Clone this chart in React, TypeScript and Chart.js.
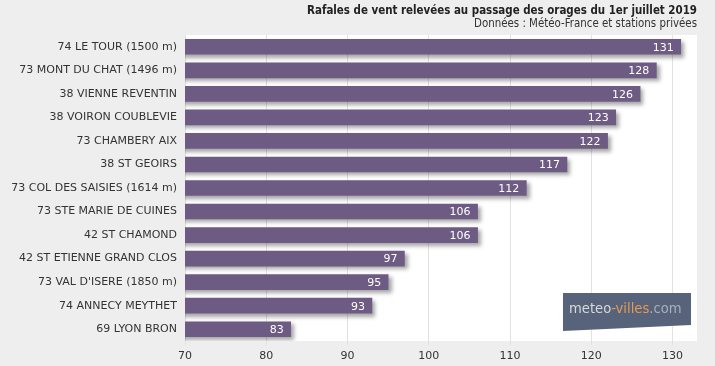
import React, { useEffect, useRef } from "react";
import { Chart, registerables } from "chart.js";

Chart.register(...registerables);

const stations = [
  "74 LE TOUR (1500 m)",
  "73 MONT DU CHAT (1496 m)",
  "38 VIENNE REVENTIN",
  "38 VOIRON COUBLEVIE",
  "73 CHAMBERY AIX",
  "38 ST GEOIRS",
  "73 COL DES SAISIES (1614 m)",
  "73 STE MARIE DE CUINES",
  "42 ST CHAMOND",
  "42 ST ETIENNE GRAND CLOS",
  "73 VAL D'ISERE (1850 m)",
  "74 ANNECY MEYTHET",
  "69 LYON BRON",
];
const gusts = [131, 128, 126, 123, 122, 117, 112, 106, 106, 97, 95, 93, 83];
const axisMin = 70;
const axisMax = 133;
const axisStep = 10;
const titleText = "Rafales de vent relevées au passage des orages du 1er juillet 2019";
const subtitleText = "Données : Météo-France et stations privées";
const logoParts = ["meteo", "-villes", ".com"];

const FONT = "'DejaVu Sans', Verdana, sans-serif";
const FONT_C = "'DejaVu Sans Condensed', 'DejaVu Sans', sans-serif";

const decorPlugin = {
  id: "decor",
  beforeDraw(chart: any) {
    const { ctx, chartArea: a, width, height } = chart;
    ctx.save();
    ctx.fillStyle = "#eeeeee";
    ctx.fillRect(0, 0, width, height);
    ctx.fillStyle = "#ffffff";
    ctx.fillRect(a.left, a.top, a.right - a.left, a.bottom - a.top);
    ctx.restore();
  },
  beforeDatasetsDraw(chart: any) {
    const ctx = chart.ctx;
    ctx.save();
    ctx.shadowColor = "rgba(0,0,0,0.35)";
    ctx.shadowOffsetX = 3;
    ctx.shadowOffsetY = 3;
    ctx.shadowBlur = 4;
  },
  afterDatasetsDraw(chart: any) {
    const ctx = chart.ctx;
    ctx.restore();
    const meta = chart.getDatasetMeta(0);
    ctx.save();
    ctx.font = `11px ${FONT}`;
    ctx.fillStyle = "#ffffff";
    ctx.textAlign = "right";
    ctx.textBaseline = "middle";
    meta.data.forEach((bar: any, i: number) => {
      ctx.fillText(String(gusts[i]), bar.x - 7, bar.y + 1);
    });
    ctx.restore();
  },
  afterDraw(chart: any) {
    const { ctx, chartArea: a } = chart;
    ctx.save();
    // titles
    ctx.textAlign = "right";
    ctx.textBaseline = "alphabetic";
    ctx.fillStyle = "#222222";
    ctx.font = `bold 11.45px ${FONT_C}`;
    ctx.fillText(titleText, a.right, 14);
    ctx.font = `11.4px ${FONT_C}`;
    ctx.fillStyle = "#333333";
    ctx.fillText(subtitleText, a.right, 27);

    // logo
    const lx = a.right - 134;
    const ly = a.bottom - 48;
    ctx.fillStyle = "#56637a";
    ctx.beginPath();
    ctx.moveTo(lx, ly);
    ctx.lineTo(lx + 128, ly);
    ctx.lineTo(lx + 128, ly + 32);
    ctx.lineTo(lx, ly + 38);
    ctx.closePath();
    ctx.fill();
    ctx.textAlign = "left";
    let size = 15;
    ctx.font = `${size}px ${FONT_C}`;
    const full = logoParts.join("");
    const w = ctx.measureText(full).width;
    size = (size * 113) / w;
    ctx.font = `${size}px ${FONT_C}`;
    const colors = ["#d9d9d9", "#e59a55", "#a9b0bd"];
    let x = lx + 6;
    logoParts.forEach((p, i) => {
      ctx.fillStyle = colors[i];
      ctx.fillText(p, x, ly + 20);
      x += ctx.measureText(p).width;
    });
    ctx.restore();
  },
};

export default function App() {
  const ref = useRef<HTMLCanvasElement>(null);
  useEffect(() => {
    document.body.style.margin = "0";
    const chart = new Chart(ref.current as HTMLCanvasElement, {
      type: "bar",
      data: {
        labels: stations,
        datasets: [
          {
            data: gusts,
            backgroundColor: "#6e5b83",
            barThickness: 15,
            borderWidth: 0,
          },
        ],
      },
      options: {
        indexAxis: "y",
        animation: false,
        responsive: false,
        devicePixelRatio: 1,
        layout: { padding: { top: 35, right: 18, left: 0, bottom: 0 } },
        plugins: {
          legend: { display: false },
          tooltip: { enabled: false },
          title: { display: false },
        },
        scales: {
          x: {
            type: "linear",
            min: axisMin,
            max: axisMax,
            border: { display: false },
            grid: {
              color: "#e2e2e2",
              drawTicks: true,
              tickLength: 4,
            },
            ticks: {
              stepSize: axisStep,
              includeBounds: false,
              color: "#333333",
              padding: 5,
              font: { family: FONT, size: 11 },
            },
            afterFit(scale: any) {
              scale.height = 25;
            },
          },
          y: {
            border: { display: false },
            grid: { display: false, drawTicks: false },
            ticks: {
              color: "#333333",
              padding: 8,
              font: { family: FONT, size: 11 },
            },
            afterFit(scale: any) {
              scale.width = 185;
            },
          },
        },
      } as any,
      plugins: [decorPlugin],
    });
    return () => chart.destroy();
  }, []);
  return (
    <div style={{ position: "absolute", left: 0, top: 0 }}>
      <canvas ref={ref} width={715} height={366} />
    </div>
  );
}
